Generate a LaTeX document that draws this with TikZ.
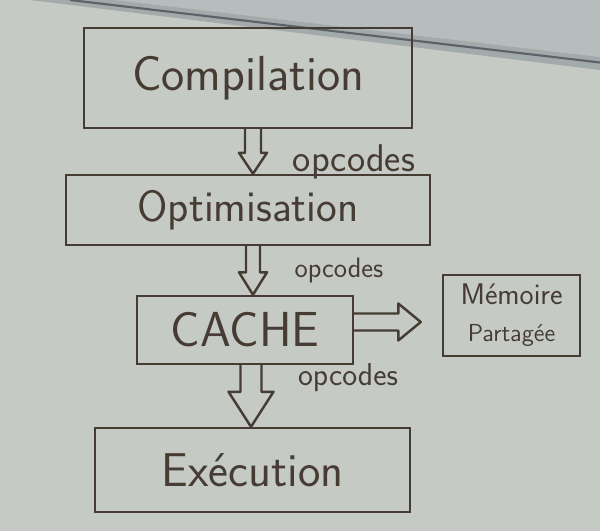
\documentclass[tikz,border=0pt]{standalone}
\usetikzlibrary{calc}
\definecolor{board}{RGB}{197,202,196}
\definecolor{wall}{RGB}{182,189,188}
\definecolor{rail}{RGB}{163,170,171}
\definecolor{railedge}{RGB}{92,98,104}
\definecolor{ink}{RGB}{70,60,52}
\tikzset{>=latex}
\tikzset{
    stage/.style={draw=ink, line width=1.4pt, rectangle, inner sep=0pt, text=ink, font=\sffamily},
    arrowline/.style={draw=ink, line width=1.4pt, line join=round},
    tag/.style={text=ink, font=\sffamily, inner sep=0pt}
}
% hollow arrow: from, to, shaft half width, head half width, head length
\newcommand{\hollowarrow}[5]{%
    \coordinate (hbase) at ($(#2)!#5!(#1)$);
    \draw[arrowline] ($(#1)!#3!90:(#2)$) -- ($(hbase)!#3!90:(#2)$) -- ($(hbase)!#4!90:(#2)$) -- (#2)
        -- ($(hbase)!#4!-90:(#2)$) -- ($(hbase)!#3!-90:(#2)$) -- ($(#1)!#3!-90:(#2)$);
}

\begin{document}
\begin{tikzpicture}
    \coordinate (C) at (4.96,-1.56);
    \coordinate (O) at (4.96,-4.2);
    \coordinate (K) at (4.9,-6.6);
    \coordinate (M) at (10.23,-6.31);
    \coordinate (E) at (5.05,-9.4);

    % Whiteboard
    \useasboundingbox (0,0) rectangle (12,-10.62);
    \fill[board] (0,0) rectangle (12,-10.62);
    \fill[wall] (2.3,0) -- (12,0) -- (12,-1.14) -- cycle;
    \fill[rail] (2.3,0) -- (12,-1.14) -- (12,-1.4) -- (0.6,0) -- cycle;
    \draw[railedge, line width=1.2pt] (1.4,0) -- (12,-1.25);

    % Boxes
    \node[stage, minimum width=6.56cm, minimum height=2cm] (comp) at (C)
        {\fontsize{28}{30}\selectfont Compilation};
    \node[stage, minimum width=7.28cm, minimum height=1.4cm] (opt) at (O)
        {\fontsize{25}{27}\selectfont Optimisation};
    \node[stage, minimum width=4.32cm, minimum height=1.36cm] (cache) at (K)
        {\fontsize{28}{30}\selectfont CACHE};
    \node[stage, minimum width=2.74cm, minimum height=1.62cm, align=center,
        font=\sffamily\fontsize{17}{21}\selectfont] (mem) at (M)
        {Mémoire\\{\fontsize{14}{21}\selectfont Partagée}};
    \node[stage, minimum width=6.3cm, minimum height=1.68cm] (exe) at (E)
        {\fontsize{27}{29}\selectfont Exécution};

    % Arrow ends
    \coordinate (a1s) at ([xshift=1mm]comp.south);
    \coordinate (a1e) at ([xshift=1mm]opt.north);
    \coordinate (a2s) at ([xshift=1mm]opt.south);
    \coordinate (a2e) at ([xshift=1.6mm]cache.north);
    \coordinate (a3s) at ([xshift=1.2mm]cache.south);
    \coordinate (a3e) at ([xshift=-0.3mm]exe.north);
    \coordinate (a4s) at ([yshift=1.6mm]cache.east);
    \coordinate (a4e) at ($(a4s -| mem.west)+(-0.42,0)$);

    % Arrows
    \hollowarrow{a1s}{a1e}{0.16cm}{0.28cm}{0.42cm}
    \hollowarrow{a2s}{a2e}{0.14cm}{0.28cm}{0.45cm}
    \hollowarrow{a3s}{a3e}{0.21cm}{0.45cm}{0.7cm}
    \hollowarrow{a4s}{a4e}{0.17cm}{0.37cm}{0.45cm}

    % Labels
    \node[tag] (op1) at (7.08,-3.24) {\fontsize{22}{24}\selectfont opcodes};
    \node[tag] (op2) at (6.78,-5.4) {\fontsize{16}{18}\selectfont opcodes};
    \node[tag] (op3) at (6.96,-7.56) {\fontsize{18}{20}\selectfont opcodes};

\end{tikzpicture}
\end{document}
